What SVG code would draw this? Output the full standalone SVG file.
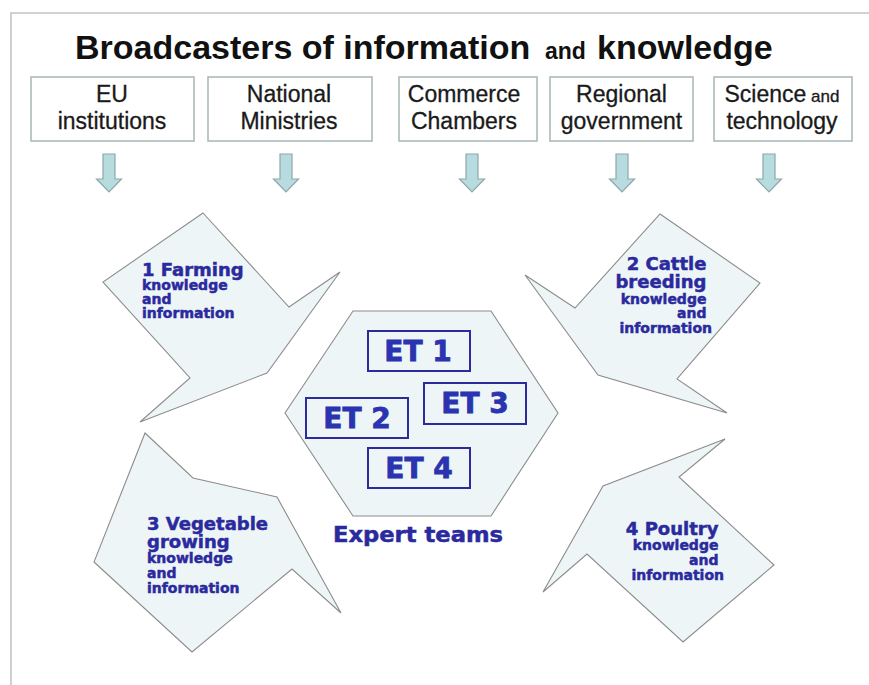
<svg xmlns="http://www.w3.org/2000/svg" width="869" height="685" viewBox="0 0 869 685">
  <defs>
    <style>
      .frame { fill: none; stroke: #c4c4c4; stroke-width: 1.6; }
      .title { font-family: "Liberation Sans", Arial, sans-serif; font-weight: bold; fill: #111; }
      .src rect { fill: #fff; stroke: #a7b6b6; stroke-width: 1.5; }
      .src text { font-family: "Liberation Sans", Arial, sans-serif; font-size: 23px; fill: #1a1a1a; text-anchor: middle; stroke: #1a1a1a; stroke-width: 0.3; }
      .down { fill: #b7dcdf; stroke: #8ea7a9; stroke-width: 1.2; }
      .domain { fill: #eef5f6; stroke: #8c8c8c; stroke-width: 1.1; stroke-linejoin: miter; }
      .lbl { font-family: "DejaVu Sans", Verdana, sans-serif; font-weight: bold; fill: #2a2a9e; stroke: #2a2a9e; stroke-width: 0.5; }
      .big { font-size: 18px; }
      .small { font-size: 14px; }
      .et rect { fill: none; stroke: #2b2b9c; stroke-width: 2; }
      .et text { font-family: "DejaVu Sans", Verdana, sans-serif; font-weight: bold; font-size: 28px; fill: #2a33b0; stroke: #2a33b0; stroke-width: 0.8; text-anchor: middle; }
    </style>
    <path id="downArrow" class="down" d="M -6,0 H 6 V 25 H 12.5 L 0,38 L -12.5,25 H -6 Z"/>
  </defs>

  <rect width="869" height="685" fill="#fff"/>
  <path class="frame" d="M 11,685 V 13 H 869"/>

  <text class="title" x="75" y="59" font-size="34">Broadcasters of information<tspan x="545" font-size="23">and</tspan><tspan x="597" font-size="34">knowledge</tspan></text>

  <!-- information sources -->
  <g id="eu" class="src">
    <rect x="31" y="77" width="163" height="64"/>
    <text x="112" y="102">EU</text>
    <text x="112" y="129">institutions</text>
  </g>
  <g id="ministries" class="src">
    <rect x="208" y="77" width="164" height="64"/>
    <text x="289" y="102">National</text>
    <text x="289" y="129">Ministries</text>
  </g>
  <g id="chambers" class="src">
    <rect x="399" y="77" width="138" height="64"/>
    <text x="464" y="102">Commerce</text>
    <text x="464" y="129">Chambers</text>
  </g>
  <g id="regional" class="src">
    <rect x="550" y="77" width="143" height="64"/>
    <text x="621.5" y="102">Regional</text>
    <text x="621.5" y="129">government</text>
  </g>
  <g id="science" class="src">
    <rect x="714" y="77" width="138" height="64"/>
    <text x="782" y="102">Science<tspan font-size="17"> and</tspan></text>
    <text x="782" y="129">technology</text>
  </g>

  <!-- downward flow arrows -->
  <g id="connectors">
    <use href="#downArrow" transform="translate(109,154)"/>
    <use href="#downArrow" transform="translate(286,154)"/>
    <use href="#downArrow" transform="translate(472,154)"/>
    <use href="#downArrow" transform="translate(622,154)"/>
    <use href="#downArrow" transform="translate(769,154)"/>
  </g>

  <!-- knowledge domains -->
  <g id="farming">
    <polygon class="domain" points="203,213 289,307 340,272 267,373 140,422 190,378 103,282"/>
    <text class="lbl">
      <tspan class="big" x="142" y="276">1 Farming</tspan>
      <tspan class="small" x="142" y="290">knowledge</tspan>
      <tspan class="small" x="142" y="304">and</tspan>
      <tspan class="small" x="142" y="318">information</tspan>
    </text>
  </g>

  <g id="cattle">
    <polygon class="domain" points="660,214 760,283 677,379 727,413 598,375 525,275 575,308"/>
    <text class="lbl" text-anchor="end">
      <tspan class="big" x="712" y="270">2 Cattle</tspan>
      <tspan class="big" x="712" y="288">breeding</tspan>
      <tspan class="small" x="712" y="304">knowledge</tspan>
      <tspan class="small" x="712" y="318">and</tspan>
      <tspan class="small" x="712" y="333">information</tspan>
    </text>
  </g>

  <g id="vegetable">
    <polygon class="domain" points="145,433 193,478 277,497 341,613 292,569 192,652 94,562"/>
    <text class="lbl">
      <tspan class="big" x="147" y="530">3 Vegetable</tspan>
      <tspan class="big" x="147" y="548">growing</tspan>
      <tspan class="small" x="147" y="563">knowledge</tspan>
      <tspan class="small" x="147" y="578">and</tspan>
      <tspan class="small" x="147" y="593">information</tspan>
    </text>
  </g>

  <g id="poultry">
    <polygon class="domain" points="725,439 679,477 774,565 683,642 587,554 543,592 603,486"/>
    <text class="lbl" text-anchor="end">
      <tspan class="big" x="724" y="535">4 Poultry</tspan>
      <tspan class="small" x="724" y="550">knowledge</tspan>
      <tspan class="small" x="724" y="565">and</tspan>
      <tspan class="small" x="724" y="580">information</tspan>
    </text>
  </g>

  <!-- expert teams hub -->
  <g id="experts">
    <polygon class="domain" points="353,311 491,311 558,413 491,516 353,516 285,413"/>
    <text class="lbl" x="418" y="542" font-size="21" text-anchor="middle" textLength="170" lengthAdjust="spacingAndGlyphs">Expert teams</text>
  </g>
  <g id="et1" class="et">
    <rect x="368" y="331" width="102" height="40"/>
    <text x="418" y="361">ET 1</text>
  </g>
  <g id="et3" class="et">
    <rect x="424" y="383" width="102" height="41"/>
    <text x="475" y="413">ET 3</text>
  </g>
  <g id="et2" class="et">
    <rect x="306" y="398" width="102" height="40"/>
    <text x="357" y="428">ET 2</text>
  </g>
  <g id="et4" class="et">
    <rect x="368" y="448" width="102" height="40"/>
    <text x="419" y="478">ET 4</text>
  </g>
</svg>
